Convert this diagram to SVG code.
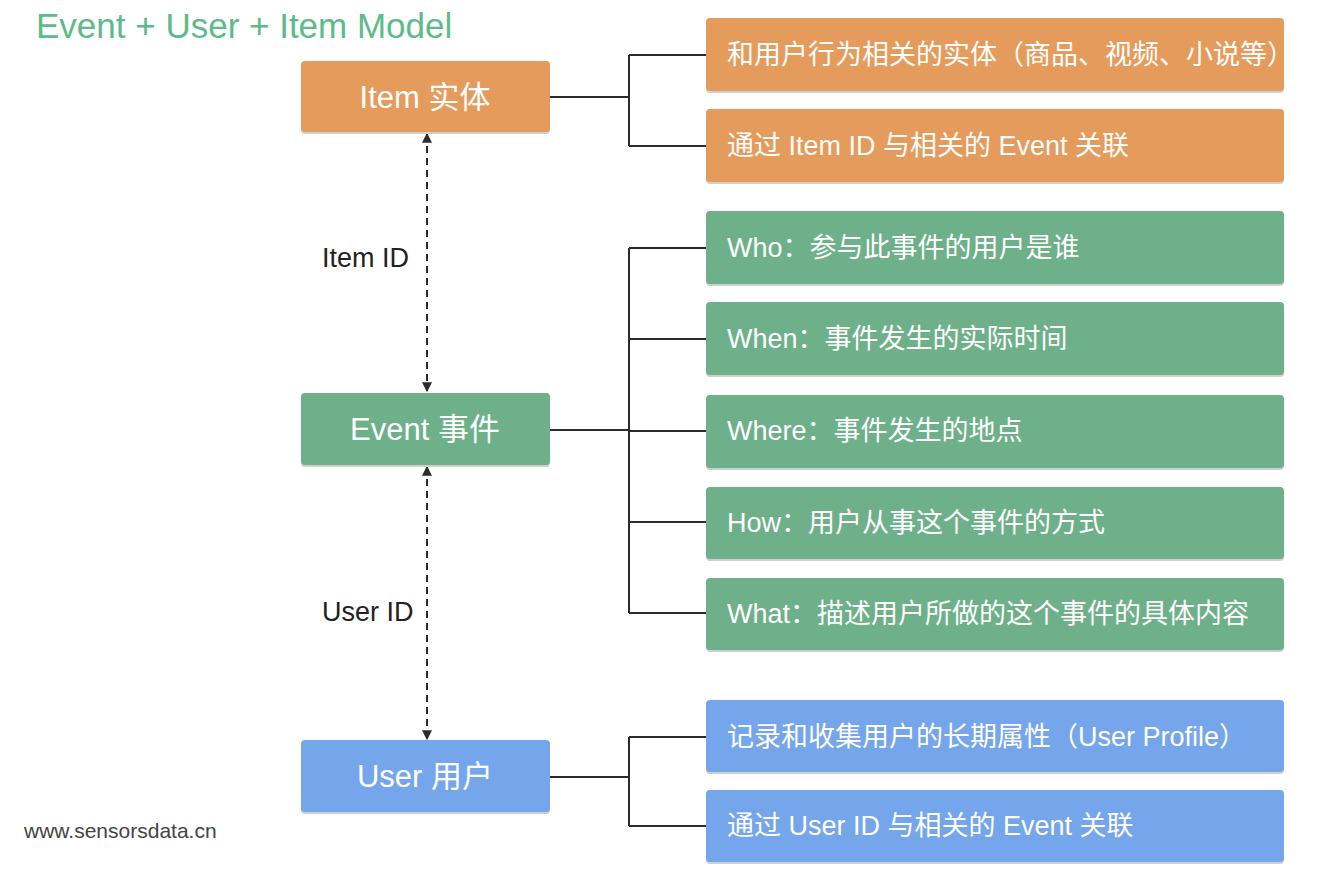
<svg xmlns="http://www.w3.org/2000/svg" width="1328" height="886" viewBox="0 0 1328 886">
<style>
text{font-family:"Liberation Sans","Noto Sans CJK SC",sans-serif}
.sh{fill:#cfcfcf}
.o{fill:#e59b5b}
.g{fill:#6eb08a}
.b{fill:#75a5ea}
.main{fill:#fff;font-size:31px;text-anchor:middle;dominant-baseline:central}
.sub{fill:#fff;font-size:27px;dominant-baseline:central}
.lbl{fill:#222;font-size:27px}
.ln{stroke:#2b2b2b;stroke-width:2;fill:none}
.dash{stroke:#2b2b2b;stroke-width:2;fill:none;stroke-dasharray:7 5}
</style>
<defs>
<marker id="ah" viewBox="0 0 8 8" refX="7" refY="4" markerWidth="5" markerHeight="5" orient="auto-start-reverse">
<path d="M0,0 L8,4 L0,8 z" fill="#2b2b2b"/>
</marker>
</defs>
<rect width="1328" height="886" fill="#fff"/>
<text x="36" y="38" font-size="35" fill="#5dbb8a">Event + User + Item Model</text>
<text x="24" y="838" font-size="21" fill="#444">www.sensorsdata.cn</text>

<g id="connectors">
<path class="ln" d="M550,97 H629 M629,55 V146 M629,55 H706 M629,146 H706"/>
<path class="ln" d="M550,430 H629 M629,248 V613 M629,248 H706 M629,339 H706 M629,431 H706 M629,522 H706 M629,613 H706"/>
<path class="ln" d="M550,777 H629 M629,737 V826 M629,737 H706 M629,826 H706"/>
<path class="dash" d="M427,134 V391" marker-start="url(#ah)" marker-end="url(#ah)"/>
<path class="dash" d="M427,467 V739" marker-start="url(#ah)" marker-end="url(#ah)"/>
<text class="lbl" x="322" y="267">Item ID</text>
<text class="lbl" x="322" y="621">User ID</text>
</g>

<g id="item">
<rect class="sh" x="301" y="63" width="249" height="71" rx="4"/>
<rect class="o" x="301" y="61" width="249" height="71" rx="4"/>
<text class="main" x="425" y="97">Item 实体</text>
</g>
<g id="event">
<rect class="sh" x="301" y="395" width="249" height="72" rx="4"/>
<rect class="g" x="301" y="393" width="249" height="72" rx="4"/>
<text class="main" x="425" y="429">Event 事件</text>
</g>
<g id="user">
<rect class="sh" x="301" y="742" width="249" height="72" rx="4"/>
<rect class="b" x="301" y="740" width="249" height="72" rx="4"/>
<text class="main" x="425" y="776">User 用户</text>
</g>

<g id="item-1">
<rect class="sh" x="706" y="20" width="578" height="73" rx="4"/>
<rect class="o" x="706" y="18" width="578" height="73" rx="4"/>
<text class="sub" x="727" y="55">和用户行为相关的实体（商品、视频、小说等）</text>
</g>
<g id="item-2">
<rect class="sh" x="706" y="111" width="578" height="73" rx="4"/>
<rect class="o" x="706" y="109" width="578" height="73" rx="4"/>
<text class="sub" x="727" y="146">通过 Item ID 与相关的 Event 关联</text>
</g>

<g id="event-who">
<rect class="sh" x="706" y="213" width="578" height="73" rx="4"/>
<rect class="g" x="706" y="211" width="578" height="73" rx="4"/>
<text class="sub" x="727" y="248">Who：参与此事件的用户是谁</text>
</g>
<g id="event-when">
<rect class="sh" x="706" y="304" width="578" height="73" rx="4"/>
<rect class="g" x="706" y="302" width="578" height="73" rx="4"/>
<text class="sub" x="727" y="339">When：事件发生的实际时间</text>
</g>
<g id="event-where">
<rect class="sh" x="706" y="397" width="578" height="73" rx="4"/>
<rect class="g" x="706" y="395" width="578" height="73" rx="4"/>
<text class="sub" x="727" y="431">Where：事件发生的地点</text>
</g>
<g id="event-how">
<rect class="sh" x="706" y="489" width="578" height="72" rx="4"/>
<rect class="g" x="706" y="487" width="578" height="72" rx="4"/>
<text class="sub" x="727" y="523">How：用户从事这个事件的方式</text>
</g>
<g id="event-what">
<rect class="sh" x="706" y="580" width="578" height="72" rx="4"/>
<rect class="g" x="706" y="578" width="578" height="72" rx="4"/>
<text class="sub" x="727" y="614">What：描述用户所做的这个事件的具体内容</text>
</g>

<g id="user-1">
<rect class="sh" x="706" y="702" width="578" height="72" rx="4"/>
<rect class="b" x="706" y="700" width="578" height="72" rx="4"/>
<text class="sub" x="727" y="737">记录和收集用户的长期属性（User Profile）</text>
</g>
<g id="user-2">
<rect class="sh" x="706" y="792" width="578" height="72" rx="4"/>
<rect class="b" x="706" y="790" width="578" height="72" rx="4"/>
<text class="sub" x="727" y="826">通过 User ID 与相关的 Event 关联</text>
</g>
</svg>
